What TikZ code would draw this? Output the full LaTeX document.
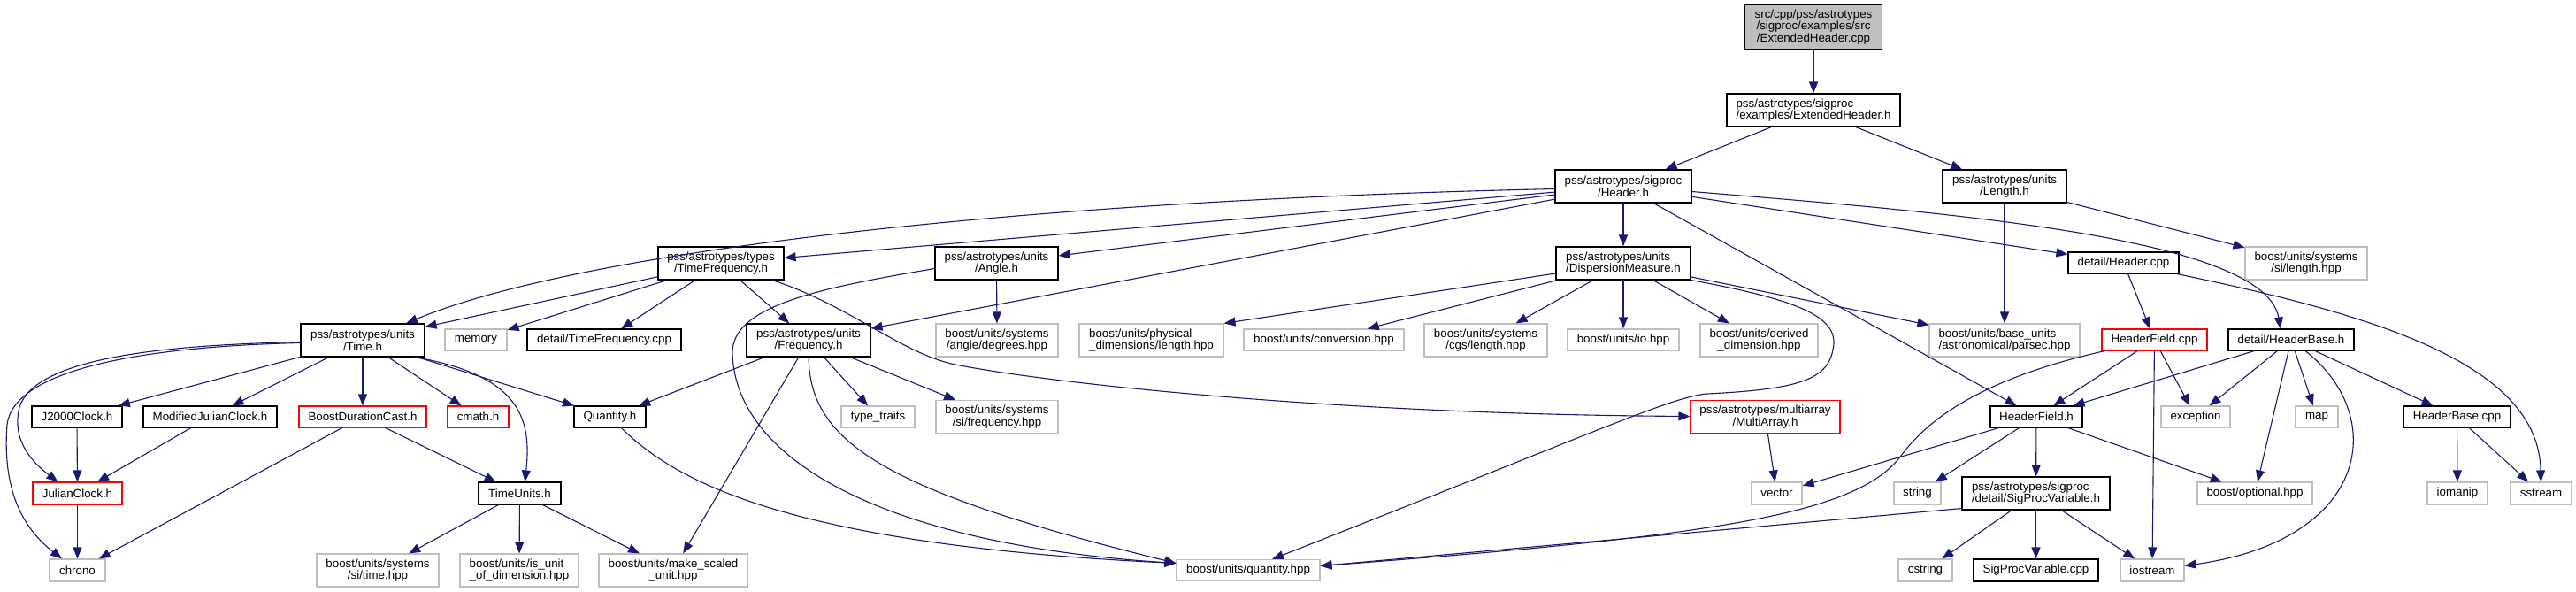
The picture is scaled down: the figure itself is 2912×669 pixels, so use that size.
\documentclass[tikz,border=0pt]{standalone}
\usepackage{fontspec}
\setmainfont{Liberation Sans}
\usetikzlibrary{arrows.meta,calc}
\definecolor{edgeblue}{HTML}{191970}
\definecolor{greyse}{HTML}{BFBFBF}
\tikzset{
  nd/.style={draw=black,fill=white,line width=1.1pt,inner sep=0pt,align=center,
    font=\fontsize{13.33}{13.5}\selectfont},
  box/.style={nd},
  ext/.style={nd,draw=greyse},
  trunc/.style={nd,draw=red},
  mainnode/.style={nd,fill=greyse},
  lft/.style={align=left},
  sz/.style 2 args={minimum width=#1pt,minimum height=#2pt},
  edge/.style={draw=edgeblue,line width=1.1pt,-{Triangle[length=13pt,width=10pt]}}
}
\begin{document}
\begin{tikzpicture}[x=1pt,y=-1pt]
\useasboundingbox (0,0) rectangle (2912,669);
% row 0-3
\node[mainnode,sz={155}{51}] (top) at (2050,30.5) {src/cpp/pss/astrotypes\\/sigproc/examples/src\\/ExtendedHeader.cpp};
\node[box,lft,sz={196}{37}] (exth) at (2050,124.5) {pss/astrotypes/sigproc\\/examples/ExtendedHeader.h};
\node[box,sz={154}{37}] (header) at (1835,210.5) {pss/astrotypes/sigproc\\/Header.h};
\node[box,sz={140}{37}] (length) at (2266,210.5) {pss/astrotypes/units\\/Length.h};
\node[box,sz={142}{37}] (timefreq) at (815,297.5) {pss/astrotypes/types\\/TimeFrequency.h};
\node[box,sz={139}{37}] (angle) at (1126.5,297.5) {pss/astrotypes/units\\/Angle.h};
\node[box,lft,sz={152}{37}] (dm) at (1835,297.5) {pss/astrotypes/units\\/DispersionMeasure.h};
\node[box,sz={125}{24}] (hcpp) at (2400.5,297) {detail/Header.cpp};
\node[ext,sz={138}{37}] (silength) at (2607,297.5) {boost/units/systems\\/si/length.hpp};
% row 4
\node[box,sz={140}{37}] (time) at (410,384.5) {pss/astrotypes/units\\/Time.h};
\node[ext,sz={70}{24}] (memory) at (538,384) {memory};
\node[box,sz={174}{24}] (tfcpp) at (683,384) {detail/TimeFrequency.cpp};
\node[box,sz={140}{37}] (freq) at (914,384.5) {pss/astrotypes/units\\/Frequency.h};
\node[ext,sz={138}{37}] (degrees) at (1127,384.5) {boost/units/systems\\/angle/degrees.hpp};
\node[ext,lft,sz={163}{37}] (physlen) at (1301.5,384.5) {boost/units/physical\\\_dimensions/length.hpp};
\node[ext,sz={181}{24}] (conversion) at (1496.5,384) {boost/units/conversion.hpp};
\node[ext,sz={139}{37}] (cgslen) at (1679.5,384.5) {boost/units/systems\\/cgs/length.hpp};
\node[ext,sz={126}{24}] (io) at (1835,384) {boost/units/io.hpp};
\node[ext,sz={133}{37}] (derived) at (1988.5,384.5) {boost/units/derived\\\_dimension.hpp};
\node[ext,lft,sz={170}{37}] (parsec) at (2266,384.5) {boost/units/base\_units\\/astronomical/parsec.hpp};
\node[trunc,sz={119}{24}] (hfcpp) at (2435.5,384) {HeaderField.cpp};
\node[box,sz={142}{24}] (hbase) at (2590,384) {detail/HeaderBase.h};
% row 5
\node[box,sz={102}{24}] (j2000) at (87,471) {J2000Clock.h};
\node[box,sz={151}{24}] (mjc) at (237.5,471) {ModifiedJulianClock.h};
\node[trunc,sz={144}{24}] (bdc) at (410,471) {BoostDurationCast.h};
\node[trunc,sz={69}{24}] (cmath) at (540.5,471) {cmath.h};
\node[box,sz={81}{24}] (quantityh) at (689.5,471) {Quantity.h};
\node[ext,sz={83}{24}] (typetraits) at (992.5,471) {type\_traits};
\node[ext,sz={138}{37}] (sifreq) at (1127,471) {boost/units/systems\\/si/frequency.hpp};
\node[trunc,sz={169}{37}] (multiarray) at (1995.5,471) {pss/astrotypes/multiarray\\/MultiArray.h};
\node[box,sz={104}{24}] (hfh) at (2302,471) {HeaderField.h};
\node[ext,sz={78}{24}] (exception) at (2482,471) {exception};
\node[ext,sz={48}{24}] (map) at (2619,471) {map};
\node[box,sz={121}{24}] (hbcpp) at (2777.5,471) {HeaderBase.cpp};
% row 6
\node[trunc,sz={101}{25}] (julian) at (87.5,557.5) {JulianClock.h};
\node[box,sz={93}{25}] (timeunits) at (587.5,557.5) {TimeUnits.h};
\node[ext,sz={57}{25}] (vector) at (2008.5,557.5) {vector};
\node[ext,sz={53}{25}] (string) at (2167.5,557.5) {string};
\node[box,lft,sz={167}{37}] (spv) at (2301.5,557.5) {pss/astrotypes/sigproc\\/detail/SigProcVariable.h};
\node[ext,sz={130}{25}] (optional) at (2549,557.5) {boost/optional.hpp};
\node[ext,sz={68}{25}] (iomanip) at (2778,557.5) {iomanip};
\node[ext,sz={69}{25}] (sstream) at (2872.5,557.5) {sstream};
% row 7
\node[ext,sz={63}{25}] (chrono) at (87.5,644.5) {chrono};
\node[ext,sz={138}{37}] (sitime) at (427,644.5) {boost/units/systems\\/si/time.hpp};
\node[ext,lft,sz={134}{37}] (isunit) at (587,644.5) {boost/units/is\_unit\\\_of\_dimension.hpp};
\node[ext,sz={168}{37}] (makescaled) at (761,644.5) {boost/units/make\_scaled\\\_unit.hpp};
\node[ext,sz={162}{24}] (quantityhpp) at (1411,644.5) {boost/units/quantity.hpp};
\node[ext,sz={61}{25}] (cstring) at (2176.5,644.5) {cstring};
\node[box,sz={141}{25}] (spvcpp) at (2301.5,644.5) {SigProcVariable.cpp};
\node[ext,sz={72}{25}] (iostream) at (2433,644.5) {iostream};

\coordinate (qin) at ($(quantityhpp.west)+(0,-8)$);
\coordinate (qrt) at ($(quantityhpp.east)+(0,-5)$);
% edges
\draw[edge] (top) -- (exth);
\draw[edge] (exth) -- (header);
\draw[edge] (exth) -- (length);
\draw[edge] ($(header.west)+(0,3)$) .. controls (1100,228) and (640,290) .. ($(time.north)+(49,0)$);
\draw[edge] (header) -- (timefreq);
\draw[edge] (header) -- (angle);
\draw[edge] (header) -- (freq);
\draw[edge] (header) -- (dm);
\draw[edge] (header) -- (hfh);
\draw[edge] (header) -- (hcpp);
\draw[edge] ($(header.east)+(0,6)$) .. controls (2200,240) and (2560,268) .. ($(hbase.north)+(-12,0)$);
\draw[edge] (length) -- (parsec);
\draw[edge] (length) -- (silength);
\draw[edge] (timefreq) -- (time);
\draw[edge] (timefreq) -- (memory);
\draw[edge] (timefreq) -- (tfcpp);
\draw[edge] (timefreq) -- (freq);
\draw[edge] (timefreq) .. controls (960,345) and (1020,400) .. (1080,412) .. controls (1180,432) and (1500,468) .. (multiarray);
\draw[edge] (angle) -- (degrees);
\draw[edge] ($(angle.west)+(0,6)$) .. controls (930,325) and (826,345) .. (828,400) .. controls (832,520) and (1000,615) .. (qin);
\draw[edge] (dm) -- (physlen.north east);
\draw[edge] (dm) -- (conversion);
\draw[edge] (dm) -- (cgslen);
\draw[edge] (dm) -- (io);
\draw[edge] (dm) -- (derived);
\draw[edge] (dm) -- (parsec);
\draw[edge] (dm.south east) .. controls (2040,340) and (2080,360) .. (2072,395) .. controls (2066,430) and (2030,440) .. (1930,445) .. controls (1890,448) and (1800,490) .. ($(quantityhpp.north)+(27,0)$);
\draw[edge] (hcpp) -- (hfcpp);
\draw[edge] (hcpp) .. controls (2680,355) and (2870,410) .. (sstream);
\draw[edge] (time) -- (j2000);
\draw[edge] (time) -- (mjc);
\draw[edge] (time) -- (bdc);
\draw[edge] (time) -- (cmath);
\draw[edge] (time) -- (quantityh);
\draw[edge] ($(time.south east)+(-12,0)$) .. controls (595,425) and (600,480) .. ($(timeunits.north)+(6,0)$);
\draw[edge] ($(time.west)+(0,2)$) .. controls (180,390) and (40,405) .. (22,460) .. controls (12,500) and (40,525) .. ($(julian.north)+(-22,0)$);
\draw[edge] ($(time.west)+(0,3)$) .. controls (150,392) and (15,420) .. (8,480) .. controls (2,560) and (30,600) .. ($(chrono.north)+(-17.5,0)$);
\draw[edge] (freq) -- (quantityh);
\draw[edge] (freq) -- (typetraits);
\draw[edge] (freq) -- (sifreq);
\draw[edge] (freq) -- (makescaled);
\draw[edge] (freq) .. controls (915,500) and (1000,555) .. (qin);
\draw[edge] (hfcpp) -- (hfh);
\draw[edge] (hfcpp) -- (exception);
\draw[edge] (hfcpp) -- (iostream);
\draw[edge] (hfcpp) .. controls (2230,430) and (2175,480) .. (2149,515) .. controls (2100,580) and (1950,605) .. (qrt);
\draw[edge] (hbase) -- (hfh);
\draw[edge] (hbase) -- (exception);
\draw[edge] (hbase) -- (optional);
\draw[edge] (hbase) -- (map);
\draw[edge] (hbase) .. controls (2700,470) and (2680,610) .. (iostream);
\draw[edge] (hbase) -- (hbcpp);
\draw[edge] (hbcpp) -- (iomanip);
\draw[edge] (hbcpp) -- (sstream);
\draw[edge] (j2000) -- (julian);
\draw[edge] (mjc) -- (julian);
\draw[edge] (bdc) -- (chrono);
\draw[edge] (bdc) -- (timeunits);
\draw[edge] (julian) -- (chrono);
\draw[edge] (quantityh) .. controls (760,540) and (880,615) .. (qin);
\draw[edge] (timeunits) -- (sitime);
\draw[edge] (timeunits) -- (isunit);
\draw[edge] (timeunits) -- (makescaled);
\draw[edge] (multiarray) -- (vector);
\draw[edge] (hfh) -- (vector);
\draw[edge] (hfh) -- (string);
\draw[edge] (hfh) -- (spv);
\draw[edge] (hfh) -- (optional);
\draw[edge] ($(spv.south west)+(0,-2)$) -- (qrt);
\draw[edge] (spv) -- (cstring);
\draw[edge] (spv) -- (spvcpp);
\draw[edge] (spv) -- (iostream);
\end{tikzpicture}
\end{document}
